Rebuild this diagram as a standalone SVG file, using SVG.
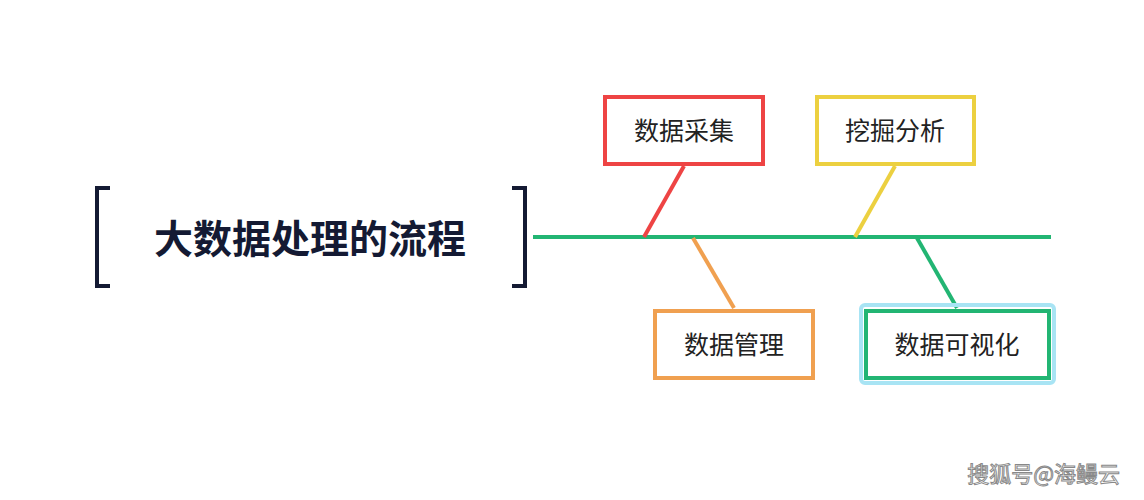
<svg xmlns="http://www.w3.org/2000/svg" width="1144" height="500" viewBox="0 0 1144 500">
<style>
text{font-family:"Noto Sans CJK SC","Noto Sans",sans-serif;}
.lbl{font-size:25px;fill:#222;text-anchor:middle;}
.box{fill:#fff;stroke-width:4;}
.br{fill:none;stroke:#141a33;stroke-width:4;}
</style>
<rect width="1144" height="500" fill="#fff"/>
<g id="title">
<path class="br" d="M110,188 H97 V286 H110"/>
<path class="br" d="M512,188 H525 V286 H512"/>
<text x="310" y="253" style="font-size:39px;font-weight:bold;fill:#141a33;text-anchor:middle">大数据处理的流程</text>
</g>
<g id="connectors" stroke-width="4" fill="none">
<line x1="533" y1="237" x2="1051" y2="237" stroke="#22b573"/>
<line x1="644" y1="237" x2="684" y2="166" stroke="#ee4444"/>
<line x1="693" y1="238" x2="734" y2="308" stroke="#f0a050"/>
<line x1="855" y1="237" x2="895" y2="166" stroke="#ecd040"/>
<line x1="917" y1="238" x2="957" y2="308" stroke="#22b573"/>
</g>
<g id="n1"><rect class="box" x="605" y="97" width="158" height="67" stroke="#ee4444"/><text class="lbl" x="684" y="140">数据采集</text></g>
<g id="n2"><rect class="box" x="817" y="97" width="157" height="67" stroke="#ecd040"/><text class="lbl" x="895" y="140">挖掘分析</text></g>
<g id="n3"><rect class="box" x="655" y="311" width="158" height="67" stroke="#f0a050"/><text class="lbl" x="734" y="354">数据管理</text></g>
<g id="n4"><rect x="861" y="305" width="193" height="78" rx="4" fill="none" stroke="#a8e4f4" stroke-width="4"/><rect class="box" x="866" y="311" width="183" height="67" stroke="#22b573"/><text class="lbl" x="957" y="354">数据可视化</text></g>
<text x="1120" y="482" style="font-size:22px;fill:#fff;stroke:#888;stroke-width:1;text-anchor:end">搜狐号@海鳗云</text>
</svg>
